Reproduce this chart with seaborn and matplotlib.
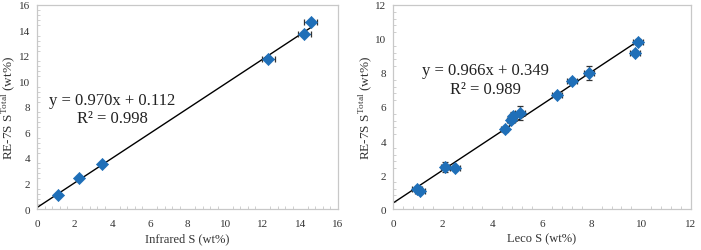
import matplotlib
matplotlib.use("Agg")
import matplotlib.pyplot as plt
import seaborn as sns
import numpy as np
import pandas as pd
from matplotlib.ticker import MultipleLocator

# Left panel: Infrared S vs RE-7S S_total
ir_x = [1.1, 2.25, 3.45, 12.3, 14.2, 14.55]
ir_y = [1.1, 2.45, 3.5, 11.8, 13.7, 14.7]
ir_xerr = [0.1, 0.1, 0.1, 0.35, 0.35, 0.35]
ir_yerr = [0.1, 0.1, 0.1, 0.15, 0.15, 0.15]
ir_slope, ir_icpt = 0.970, 0.112

# Right panel: Leco S vs RE-7S S_total
leco_x = [0.95, 1.1, 2.1, 2.5, 4.5, 4.75, 4.85, 5.1, 6.6, 7.2, 7.9, 9.75, 9.85]
leco_y = [1.15, 1.05, 2.45, 2.4, 4.7, 5.25, 5.5, 5.65, 6.7, 7.55, 8.0, 9.2, 9.85]
leco_xerr = [0.2, 0.2, 0.15, 0.2, 0.15, 0.15, 0.15, 0.2, 0.2, 0.2, 0.2, 0.2, 0.2]
leco_yerr = [0.1, 0.1, 0.3, 0.1, 0.15, 0.2, 0.2, 0.4, 0.1, 0.1, 0.4, 0.1, 0.15]
leco_slope, leco_icpt = 0.966, 0.349

sns.set_theme(style="white")
plt.rcParams['font.family'] = ['Liberation Serif', 'DejaVu Serif']

fig = plt.figure(figsize=(7.01, 2.51), dpi=100)
W, H = 701, 251
ax1 = fig.add_axes([37 / W, 1 - 210 / H, (338 - 37) / W, (210 - 6) / H])
ax2 = fig.add_axes([393 / W, 1 - 210 / H, (691 - 393) / W, (210 - 6) / H])

blue = "#1f6fb8"

def panel(ax, xs, ys, xe, ye, slope, icpt, xmax, major, xlabel, eq, r2, eqpos):
    df = pd.DataFrame({"x": xs, "y": ys})
    xl = np.array([0, max(xs)])
    ax.plot(xl, slope * xl + icpt, color="black", lw=1.0, zorder=2)
    ax.errorbar(xs, ys, xerr=xe, yerr=ye, fmt="none", ecolor="#333333",
                elinewidth=0.9, capsize=2.5, capthick=0.9, zorder=3)
    sns.scatterplot(data=df, x="x", y="y", ax=ax, marker="D", s=38,
                    color=blue, edgecolor=blue, linewidth=0.5, zorder=4)
    ax.set_xlim(0, xmax)
    ax.set_ylim(0, xmax)
    ax.xaxis.set_major_locator(MultipleLocator(major))
    ax.yaxis.set_major_locator(MultipleLocator(major))
    ax.xaxis.set_minor_locator(MultipleLocator(major / 5))
    ax.yaxis.set_minor_locator(MultipleLocator(major / 5))
    for s in ax.spines.values():
        s.set_color("#c8c8c8")
        s.set_linewidth(0.9)
    ax.tick_params(which="both", direction="in", color="#c8c8c8",
                   labelsize=8, labelcolor="#333333")
    ax.tick_params(axis="x", pad=7)
    ax.tick_params(axis="y", pad=5)
    ax.tick_params(which="major", length=3, width=0.8)
    ax.tick_params(which="minor", length=2, width=0.6,
                   bottom=True, left=True)
    ax.set_xlabel(xlabel, fontsize=9, color="#333333", labelpad=3)
    ax.set_ylabel(r"RE-7S S$^{\mathregular{Total}}$ (wt%)", fontsize=9.5,
                  color="#333333", labelpad=1)
    ax.text(eqpos[0], eqpos[1], eq, fontsize=12, color="#222222",
            transform=ax.transAxes, ha="center", va="center")
    ax.text(eqpos[0], eqpos[1] - 0.09, r2, fontsize=12,
            color="#222222", transform=ax.transAxes, ha="center", va="center")

panel(ax1, ir_x, ir_y, ir_xerr, ir_yerr, ir_slope, ir_icpt, 16, 2,
      "Infrared S (wt%)", "y = 0.970x + 0.112", "R² = 0.998", (0.25, 0.535))
panel(ax2, leco_x, leco_y, leco_xerr, leco_yerr, leco_slope, leco_icpt, 12, 2,
      "Leco S (wt%)", "y = 0.966x + 0.349", "R² = 0.989", (0.31, 0.68))

fig.savefig("out.png", dpi=100)
